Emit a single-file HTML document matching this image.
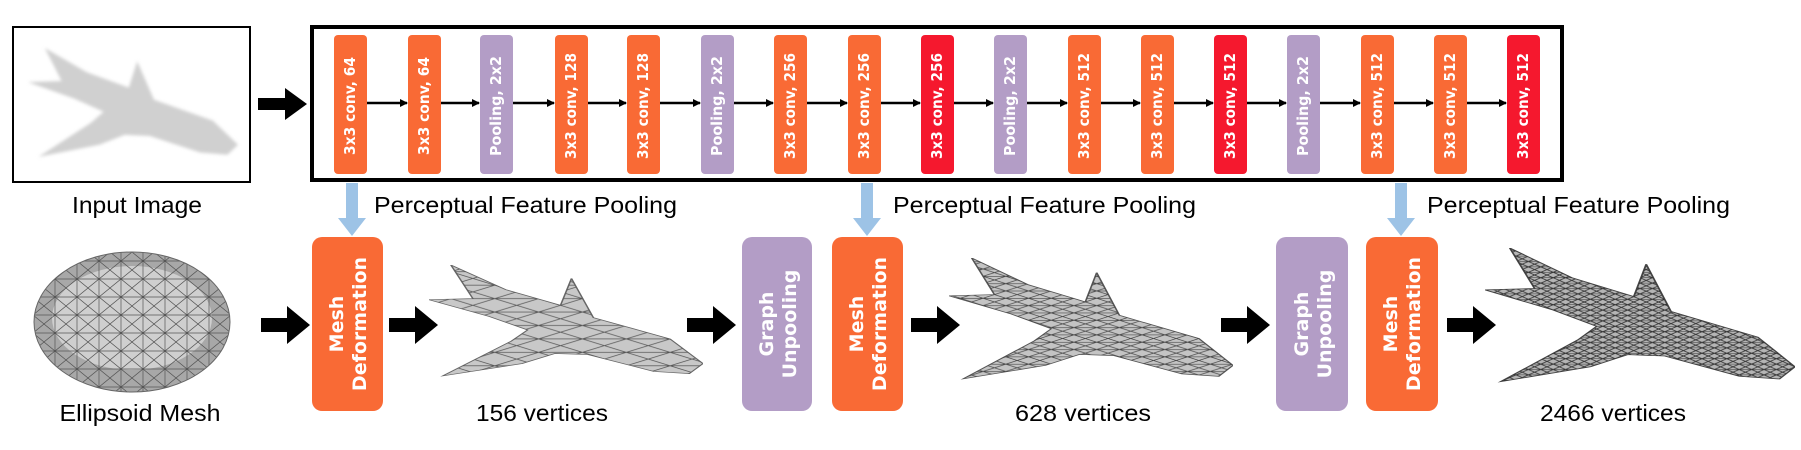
<!DOCTYPE html>
<html><head><meta charset="utf-8"><style>
html,body{margin:0;padding:0;background:#fff;}
svg{display:block;}
.lbl{font-family:"Liberation Sans",sans-serif;font-size:23px;fill:#000;}
.bt{font-family:"DejaVu Sans","Liberation Sans",sans-serif;font-size:15px;font-weight:bold;fill:#fff;}
.mt{font-family:"DejaVu Sans","Liberation Sans",sans-serif;font-size:19px;fill:#fff;font-weight:bold;}
</style></head><body>
<svg width="1801" height="450" viewBox="0 0 1801 450" xmlns="http://www.w3.org/2000/svg">
<defs>
<marker id="ah" markerWidth="8" markerHeight="8" refX="7" refY="4" orient="auto" markerUnits="userSpaceOnUse" viewBox="0 0 8 8"><path d="M0,0 L8,4 L0,8 z" fill="#000"/></marker>
<pattern id="mesh1" width="16" height="12" patternUnits="userSpaceOnUse"><path d="M0,0 L16,12 M16,0 L0,12 M0,6 H16" stroke="#555" stroke-width="0.6" fill="none"/></pattern>
<pattern id="mesh2" width="8" height="6" patternUnits="userSpaceOnUse"><path d="M0,0 L8,6 M8,0 L0,6 M0,3 H8" stroke="#444" stroke-width="0.5" fill="none"/></pattern>
<pattern id="mesh3" width="4" height="4" patternUnits="userSpaceOnUse"><path d="M0,0 L4,4 M4,0 L0,4 M0,2 H4" stroke="#333" stroke-width="0.45" fill="none"/></pattern>
<pattern id="meshE" width="22" height="18" patternUnits="userSpaceOnUse"><path d="M0,0 L22,18 M22,0 L0,18 M0,9 H22 M11,0 V18" stroke="#555" stroke-width="0.7" fill="none"/></pattern>
<filter id="blur"><feGaussianBlur stdDeviation="1.5"/></filter>
<symbol id="plane" viewBox="0 0 100 100" preserveAspectRatio="none">
<path d="M8,0 L28,22 L48,36 L52,12 L60,47 L88,66 L100,88 L95,97 L82,95 L58,80 L46,79 L34,88 L5,99 L30,68 L36,58 L22,46 L0,31 L16,30 Z"/>
</symbol>
</defs>

<rect x="13" y="27" width="237" height="155" fill="#fff" stroke="#000" stroke-width="2"/>
<g filter="url(#blur)" fill="#d0d0d0">
<svg x="28" y="48" width="210" height="110" viewBox="0 0 100 100" preserveAspectRatio="none"><use href="#plane" width="100" height="100"/></svg>
</g>
<text class="lbl" x="137" y="213" text-anchor="middle" textLength="130" lengthAdjust="spacingAndGlyphs">Input Image</text>

<path d="M258,98 H285 V88 L307,104 L285,120 V110 H258 Z" fill="#000"/>

<rect x="312" y="27" width="1250" height="153" fill="#fff" stroke="#000" stroke-width="4"/>

<g>
<rect x="334" y="35" width="33" height="139" rx="4" fill="#F96A35"/>
<rect x="408" y="35" width="33" height="139" rx="4" fill="#F96A35"/>
<rect x="480" y="35" width="33" height="139" rx="4" fill="#B39DC6"/>
<rect x="555" y="35" width="33" height="139" rx="4" fill="#F96A35"/>
<rect x="627" y="35" width="33" height="139" rx="4" fill="#F96A35"/>
<rect x="701" y="35" width="33" height="139" rx="4" fill="#B39DC6"/>
<rect x="774" y="35" width="33" height="139" rx="4" fill="#F96A35"/>
<rect x="848" y="35" width="33" height="139" rx="4" fill="#F96A35"/>
<rect x="921" y="35" width="33" height="139" rx="4" fill="#F5182E"/>
<rect x="994" y="35" width="33" height="139" rx="4" fill="#B39DC6"/>
<rect x="1068" y="35" width="33" height="139" rx="4" fill="#F96A35"/>
<rect x="1141" y="35" width="33" height="139" rx="4" fill="#F96A35"/>
<rect x="1214" y="35" width="33" height="139" rx="4" fill="#F5182E"/>
<rect x="1287" y="35" width="33" height="139" rx="4" fill="#B39DC6"/>
<rect x="1361" y="35" width="33" height="139" rx="4" fill="#F96A35"/>
<rect x="1434" y="35" width="33" height="139" rx="4" fill="#F96A35"/>
<rect x="1507" y="35" width="33" height="139" rx="4" fill="#F5182E"/>
</g>
<g class="bt" text-anchor="middle" lengthAdjust="spacingAndGlyphs">
<text transform="translate(355,106) rotate(-90)" textLength="98" lengthAdjust="spacingAndGlyphs">3x3 conv, 64</text>
<text transform="translate(429,106) rotate(-90)" textLength="98" lengthAdjust="spacingAndGlyphs">3x3 conv, 64</text>
<text transform="translate(501,106) rotate(-90)" textLength="100" lengthAdjust="spacingAndGlyphs">Pooling, 2x2</text>
<text transform="translate(576,106) rotate(-90)" textLength="106" lengthAdjust="spacingAndGlyphs">3x3 conv, 128</text>
<text transform="translate(648,106) rotate(-90)" textLength="106" lengthAdjust="spacingAndGlyphs">3x3 conv, 128</text>
<text transform="translate(722,106) rotate(-90)" textLength="100" lengthAdjust="spacingAndGlyphs">Pooling, 2x2</text>
<text transform="translate(795,106) rotate(-90)" textLength="106" lengthAdjust="spacingAndGlyphs">3x3 conv, 256</text>
<text transform="translate(869,106) rotate(-90)" textLength="106" lengthAdjust="spacingAndGlyphs">3x3 conv, 256</text>
<text transform="translate(942,106) rotate(-90)" textLength="106" lengthAdjust="spacingAndGlyphs">3x3 conv, 256</text>
<text transform="translate(1015,106) rotate(-90)" textLength="100" lengthAdjust="spacingAndGlyphs">Pooling, 2x2</text>
<text transform="translate(1089,106) rotate(-90)" textLength="106" lengthAdjust="spacingAndGlyphs">3x3 conv, 512</text>
<text transform="translate(1162,106) rotate(-90)" textLength="106" lengthAdjust="spacingAndGlyphs">3x3 conv, 512</text>
<text transform="translate(1235,106) rotate(-90)" textLength="106" lengthAdjust="spacingAndGlyphs">3x3 conv, 512</text>
<text transform="translate(1308,106) rotate(-90)" textLength="100" lengthAdjust="spacingAndGlyphs">Pooling, 2x2</text>
<text transform="translate(1382,106) rotate(-90)" textLength="106" lengthAdjust="spacingAndGlyphs">3x3 conv, 512</text>
<text transform="translate(1455,106) rotate(-90)" textLength="106" lengthAdjust="spacingAndGlyphs">3x3 conv, 512</text>
<text transform="translate(1528,106) rotate(-90)" textLength="106" lengthAdjust="spacingAndGlyphs">3x3 conv, 512</text>
</g>
<g stroke="#000" stroke-width="2.5" marker-end="url(#ah)">
<line x1="367" y1="103" x2="407" y2="103"/>
<line x1="441" y1="103" x2="479" y2="103"/>
<line x1="513" y1="103" x2="554" y2="103"/>
<line x1="588" y1="103" x2="626" y2="103"/>
<line x1="660" y1="103" x2="700" y2="103"/>
<line x1="734" y1="103" x2="773" y2="103"/>
<line x1="807" y1="103" x2="847" y2="103"/>
<line x1="881" y1="103" x2="920" y2="103"/>
<line x1="954" y1="103" x2="993" y2="103"/>
<line x1="1027" y1="103" x2="1067" y2="103"/>
<line x1="1101" y1="103" x2="1140" y2="103"/>
<line x1="1174" y1="103" x2="1213" y2="103"/>
<line x1="1247" y1="103" x2="1286" y2="103"/>
<line x1="1320" y1="103" x2="1360" y2="103"/>
<line x1="1394" y1="103" x2="1433" y2="103"/>
<line x1="1467" y1="103" x2="1506" y2="103"/>
</g>

<g fill="#9DC3E6">
<path d="M346,183 H358 V218 H366 L352,236 L338,218 H346 Z"/>
<path d="M861,183 H873 V218 H881 L867,236 L853,218 H861 Z"/>
<path d="M1395,183 H1407 V218 H1415 L1401,236 L1387,218 H1395 Z"/>
</g>
<text class="lbl" x="374" y="213" textLength="303" lengthAdjust="spacingAndGlyphs">Perceptual Feature Pooling</text>
<text class="lbl" x="893" y="213" textLength="303" lengthAdjust="spacingAndGlyphs">Perceptual Feature Pooling</text>
<text class="lbl" x="1427" y="213" textLength="303" lengthAdjust="spacingAndGlyphs">Perceptual Feature Pooling</text>

<ellipse cx="132" cy="322" rx="98" ry="70" fill="#a8a8a8"/>
<ellipse cx="132" cy="318" rx="80" ry="52" fill="#cfcfcf"/>
<ellipse cx="132" cy="322" rx="98" ry="70" fill="url(#meshE)" stroke="#666" stroke-width="1"/>
<text class="lbl" x="140" y="421" text-anchor="middle" textLength="161" lengthAdjust="spacingAndGlyphs">Ellipsoid Mesh</text>

<g fill="#000">
<path d="M261,318 H287 V306 L310,325 L287,344 V332 H261 Z"/>
<path d="M389,318 H415 V306 L438,325 L415,344 V332 H389 Z"/>
<path d="M687,318 H713 V306 L736,325 L713,344 V332 H687 Z"/>
<path d="M911,318 H937 V306 L960,325 L937,344 V332 H911 Z"/>
<path d="M1221,318 H1247 V306 L1270,325 L1247,344 V332 H1221 Z"/>
<path d="M1447,318 H1473 V306 L1496,325 L1473,344 V332 H1447 Z"/>
</g>

<rect x="312" y="237" width="71" height="174" rx="10" fill="#F96A35"/>
<rect x="742" y="237" width="70" height="174" rx="10" fill="#B39DC6"/>
<rect x="832" y="237" width="71" height="174" rx="10" fill="#F96A35"/>
<rect x="1276" y="237" width="72" height="174" rx="10" fill="#B39DC6"/>
<rect x="1366" y="237" width="72" height="174" rx="10" fill="#F96A35"/>
<g class="mt" text-anchor="middle">
<text transform="translate(343,324) rotate(-90)">Mesh</text>
<text transform="translate(366,324) rotate(-90)">Deformation</text>
<text transform="translate(773,324) rotate(-90)">Graph</text>
<text transform="translate(796,324) rotate(-90)">Unpooling</text>
<text transform="translate(863,324) rotate(-90)">Mesh</text>
<text transform="translate(886,324) rotate(-90)">Deformation</text>
<text transform="translate(1308,324) rotate(-90)">Graph</text>
<text transform="translate(1331,324) rotate(-90)">Unpooling</text>
<text transform="translate(1397,324) rotate(-90)">Mesh</text>
<text transform="translate(1420,324) rotate(-90)">Deformation</text>
</g>

<g fill="#c8c8c8" stroke="#666" stroke-width="0.6">
<svg x="429" y="265" width="274" height="112" viewBox="0 0 100 100" preserveAspectRatio="none"><use href="#plane" width="100" height="100"/></svg>
</g>
<svg x="429" y="265" width="274" height="112" viewBox="0 0 100 100" preserveAspectRatio="none"><use href="#plane" width="100" height="100" fill="url(#mesh1)"/></svg>

<g fill="#c4c4c4" stroke="#555" stroke-width="0.6">
<svg x="949" y="258" width="284" height="122" viewBox="0 0 100 100" preserveAspectRatio="none"><use href="#plane" width="100" height="100"/></svg>
</g>
<svg x="949" y="258" width="284" height="122" viewBox="0 0 100 100" preserveAspectRatio="none"><use href="#plane" width="100" height="100" fill="url(#mesh2)"/></svg>

<g fill="#b5b5b5" stroke="#444" stroke-width="0.6">
<svg x="1485" y="248" width="310" height="135" viewBox="0 0 100 100" preserveAspectRatio="none"><use href="#plane" width="100" height="100"/></svg>
</g>
<svg x="1485" y="248" width="310" height="135" viewBox="0 0 100 100" preserveAspectRatio="none"><use href="#plane" width="100" height="100" fill="url(#mesh3)"/></svg>

<text class="lbl" x="542" y="421" text-anchor="middle" textLength="132" lengthAdjust="spacingAndGlyphs">156 vertices</text>
<text class="lbl" x="1083" y="421" text-anchor="middle" textLength="136" lengthAdjust="spacingAndGlyphs">628 vertices</text>
<text class="lbl" x="1613" y="421" text-anchor="middle" textLength="146" lengthAdjust="spacingAndGlyphs">2466 vertices</text>
</svg>
</body></html>
